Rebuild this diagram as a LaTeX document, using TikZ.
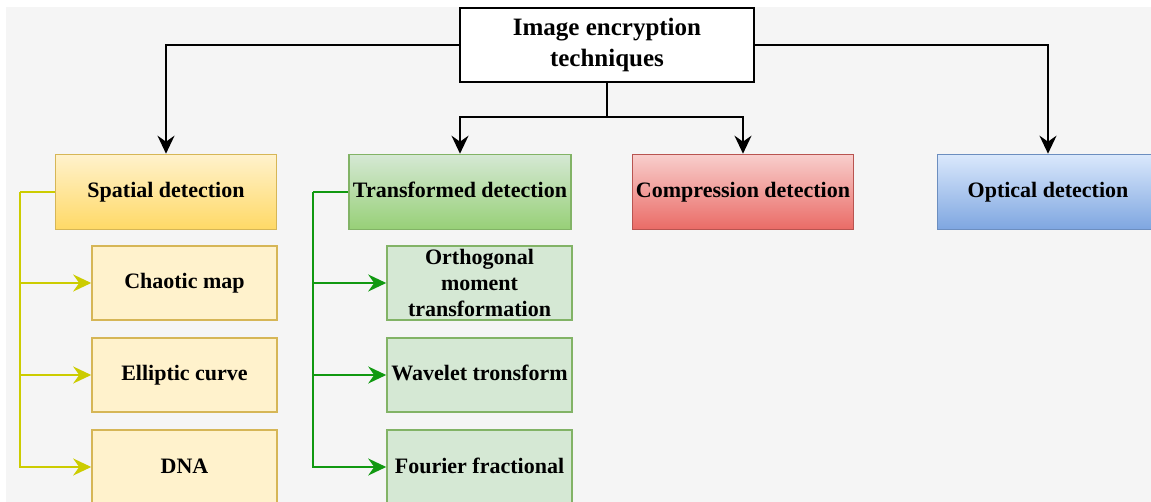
\documentclass[tikz,border=0pt]{standalone}
\usepackage{fontspec}
\setmainfont{Liberation Serif}
\usetikzlibrary{arrows.meta}
\definecolor{bg}{HTML}{F5F5F5}
\definecolor{yfill}{HTML}{FFF2CC}
\definecolor{ygrad}{HTML}{FFD966}
\definecolor{ystroke}{HTML}{D6B656}
\definecolor{gfill}{HTML}{D5E8D4}
\definecolor{ggrad}{HTML}{97D077}
\definecolor{gstroke}{HTML}{82B366}
\definecolor{rfill}{HTML}{F8CECC}
\definecolor{rgrad}{HTML}{EA6B66}
\definecolor{rstroke}{HTML}{B85450}
\definecolor{bfill}{HTML}{DAE8FC}
\definecolor{bgrad}{HTML}{7EA6E0}
\definecolor{bstroke}{HTML}{6C8EBF}
\definecolor{yline}{HTML}{CCCC00}
\definecolor{gline}{HTML}{119911}
\tikzset{
  box/.style={rectangle, line width=1.6pt, inner sep=0pt, align=center,
    font=\fontsize{22}{26.4}\selectfont\bfseries, text=black},
  oneline/.style={text height=16pt, text depth=4pt},
  catbox/.style={box, oneline, minimum width=221pt, minimum height=75pt},
  subbox/.style={box, minimum width=185pt, minimum height=74pt},
  tip/.style={-{Stealth[length=18pt,width=17pt,inset=6pt]}},
  blk/.style={tip, draw=black, line width=2pt},
  ylw/.style={tip, draw=yline, line width=2pt},
  grn/.style={tip, draw=gline, line width=2pt},
}
\begin{document}
\begin{tikzpicture}[x=1pt,y=-1pt]
\clip (0,0) rectangle (1151,502);
\fill[white] (0,0) rectangle (1151,502);
\fill[bg] (6,7) rectangle (1151,502);

\node[box, draw=black, fill=white, minimum width=294pt, minimum height=74pt,
  font=\fontsize{25}{31}\selectfont\bfseries] (root) at (607,45) {Image encryption\\techniques};

\node[catbox, draw=ystroke, top color=yfill, bottom color=ygrad] (spatial) at (166,192) {Spatial detection};
\node[catbox, draw=gstroke, top color=gfill, bottom color=ggrad, minimum width=222pt] (transformed) at (460,192) {Transformed detection};
\node[catbox, draw=rstroke, top color=rfill, bottom color=rgrad] (compression) at (743,192) {Compression detection};
\node[catbox, draw=bstroke, top color=bfill, bottom color=bgrad] (optical) at (1048,192) {Optical detection};

\node[subbox, oneline, draw=ystroke, fill=yfill] (chaotic) at (184.5,283) {Chaotic map};
\node[subbox, oneline, draw=ystroke, fill=yfill] (elliptic) at (184.5,375) {Elliptic curve};
\node[subbox, oneline, draw=ystroke, fill=yfill] (dna) at (184.5,467) {DNA};

\node[subbox, draw=gstroke, fill=gfill] (ortho) at (479.5,283) {Orthogonal\\moment\\transformation};
\node[subbox, oneline, draw=gstroke, fill=gfill] (wavelet) at (479.5,375) {Wavelet tronsform};
\node[subbox, oneline, draw=gstroke, fill=gfill] (fourier) at (479.5,467) {Fourier fractional};

\draw[blk] (root.west) -| (spatial.north);
\draw[blk] (root.east) -| (optical.north);
\coordinate (mid) at (607,117);
\draw[line width=2pt] (root.south) -- (mid);
\draw[blk] (mid) -| (transformed.north);
\draw[blk] (mid) -| (compression.north);

\coordinate (yb) at (20,192);
\draw[line width=2pt, yline] (spatial.west) -- (yb);
\draw[ylw] (yb) |- (chaotic.west);
\draw[ylw] (yb) |- (elliptic.west);
\draw[ylw] (yb) |- (dna.west);

\coordinate (gb) at (313,192);
\draw[line width=2pt, gline] (transformed.west) -- (gb);
\draw[grn] (gb) |- (ortho.west);
\draw[grn] (gb) |- (wavelet.west);
\draw[grn] (gb) |- (fourier.west);
\end{tikzpicture}
\end{document}
